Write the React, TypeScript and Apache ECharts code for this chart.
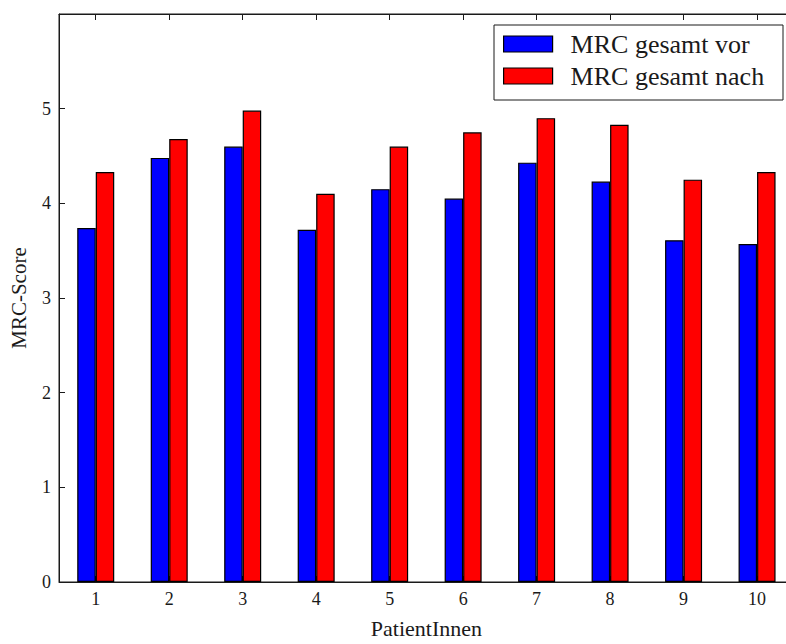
import React, { useEffect, useRef } from "react";
import * as echarts from "echarts";

const patients = ["1", "2", "3", "4", "5", "6", "7", "8", "9", "10"];
const mrcVor = [3.74, 4.48, 4.6, 3.72, 4.15, 4.05, 4.43, 4.23, 3.61, 3.57];
const mrcNach = [4.33, 4.68, 4.98, 4.1, 4.6, 4.75, 4.9, 4.83, 4.25, 4.33];
const seriesNames = ["MRC gesamt vor", "MRC gesamt nach"];
const yTicks = [0, 1, 2, 3, 4, 5];

const FONT = "Liberation Serif, DejaVu Serif, serif";
const INK = "#1a1a1a";

export default function App() {
  const ref = useRef<HTMLDivElement>(null);
  useEffect(() => {
    if (!ref.current) return;
    const chart = echarts.init(ref.current, null, { renderer: "svg" });
    const option: any = {
      animation: false,
      backgroundColor: "#ffffff",
      textStyle: { fontFamily: FONT, color: INK },
      grid: {
        left: 54.5,
        top: 14,
        width: 739.3,
        height: 572,
        show: true,
        borderColor: INK,
        borderWidth: 1,
        backgroundColor: "#ffffff",
      },
      graphic: [
        {
          type: "rect",
          z: 3,
          shape: { x: 494, y: 25, width: 289, height: 75 },
          style: { fill: "#ffffff", stroke: INK, lineWidth: 1 },
        },
      ],
      legend: {
        orient: "vertical",
        left: 503,
        top: 31,
        padding: 0,
        icon: "rect",
        itemWidth: 49,
        itemHeight: 16,
        itemGap: 6,
        z: 5,
        data: seriesNames,
        itemStyle: { borderColor: "#000000", borderWidth: 1.2 },
        textStyle: {
          fontFamily: FONT,
          fontSize: 26,
          color: INK,
          padding: [0, 0, 0, 13],
        },
      },
      xAxis: [
        {
          type: "category",
          data: patients,
          position: "bottom",
          boundaryGap: true,
          axisLine: { show: true, lineStyle: { color: INK, width: 1 } },
          axisTick: { show: true, inside: true, alignWithLabel: true, length: 6, lineStyle: { color: INK } },
          axisLabel: { fontFamily: FONT, fontSize: 18, color: INK, margin: 8 },
          splitLine: { show: false },
          name: "PatientInnen",
          nameLocation: "middle",
          nameGap: 35,
          nameTextStyle: { fontFamily: FONT, fontSize: 22, color: INK },
        },
        {
          type: "category",
          data: patients,
          position: "top",
          boundaryGap: true,
          axisLine: { show: true, lineStyle: { color: INK, width: 1 } },
          axisTick: { show: true, inside: true, alignWithLabel: true, length: 6, lineStyle: { color: INK } },
          axisLabel: { show: false },
          splitLine: { show: false },
        },
      ],
      yAxis: [
        {
          type: "value",
          min: 0,
          max: 6,
          interval: 1,
          axisLine: { show: true, lineStyle: { color: INK, width: 1 } },
          axisTick: { show: true, inside: true, length: 6, lineStyle: { color: INK } },
          axisLabel: {
            fontFamily: FONT,
            fontSize: 18,
            color: INK,
            margin: 8,
            formatter: (v: number) => (yTicks.indexOf(v) >= 0 ? String(v) : ""),
          },
          splitLine: { show: false },
          name: "MRC-Score",
          nameLocation: "middle",
          nameGap: 30,
          nameTextStyle: { fontFamily: FONT, fontSize: 21, color: INK },
        },
      ],
      series: [
        {
          type: "bar",
          name: seriesNames[0],
          data: mrcVor,
          xAxisIndex: 0,
          barWidth: 18.5,
          barGap: "0%",
          itemStyle: { color: "#0000ff", borderColor: "#000000", borderWidth: 1.2 },
        },
        {
          type: "bar",
          name: seriesNames[1],
          data: mrcNach,
          xAxisIndex: 0,
          barWidth: 18.5,
          barGap: "0%",
          itemStyle: { color: "#ff0000", borderColor: "#000000", borderWidth: 1.2 },
        },
      ],
    };
    chart.setOption(option);
    return () => chart.dispose();
  }, []);
  return (
    <div
      style={{
        position: "fixed",
        left: 0,
        top: 0,
        width: 786,
        height: 644,
        overflow: "hidden",
        background: "#ffffff",
      }}
    >
      <div ref={ref} style={{ width: 800, height: 644 }} />
    </div>
  );
}
